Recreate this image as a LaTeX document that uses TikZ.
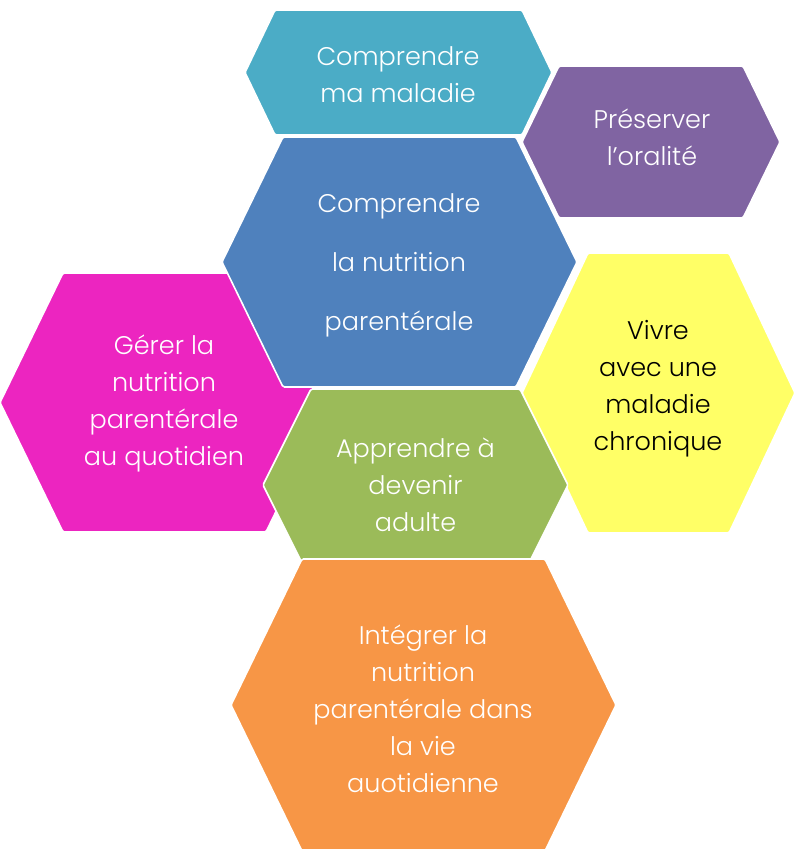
\documentclass[tikz,border=0pt]{standalone}
\usepackage{fontspec}
\setmainfont{Poppins Light}
\definecolor{cteal}{HTML}{4BACC6}
\definecolor{cpurple}{HTML}{8064A2}
\definecolor{cblue}{HTML}{4F81BD}
\definecolor{cmagenta}{HTML}{EC25C0}
\definecolor{cyellow}{HTML}{FFFF66}
\definecolor{cgreen}{HTML}{9BBB59}
\definecolor{corange}{HTML}{F79646}
\tikzset{
  hexline/.style={draw=white, line width=1.6pt, rounded corners=1.5pt},
  lbl/.style={align=center, text=white, inner sep=0pt, font=\fontsize{25.5}{37}\selectfont},
}
\newcommand\hexa[6]{%
  \filldraw[hexline, fill=#6] (#1,{(#3+#4)/2}) -- (#1+#5,#3) -- (#2-#5,#3) -- (#2,{(#3+#4)/2}) -- (#2-#5,#4) -- (#1+#5,#4) -- cycle;}
\begin{document}
\begin{tikzpicture}[x=1pt,y=-1pt]
\useasboundingbox (0,0) rectangle (795,849);
% shapes, back to front
\hexa{0}{329}{273}{532}{63}{cmagenta}
\hexa{245}{552}{10}{135}{30}{cteal}
\hexa{522}{780}{66}{218}{37}{cpurple}
\hexa{222}{577}{137}{387}{61}{cblue}
\hexa{522}{795}{253}{533}{66}{cyellow}
\hexa{263}{568}{389}{581}{48}{cgreen}
\hexa{231}{616}{559}{851}{71}{corange}
% labels
\node[lbl] (n1) at (164,403) {Gérer la\\nutrition\\parentérale\\au quotidien};
\node[lbl] (n2) at (398,75) {Comprendre\\ma maladie};
\node[lbl] (n3) at (652,137) {Préserver\\l’oralité};
\node[lbl, font=\fontsize{25.5}{59}\selectfont] (n4) at (399,265) {Comprendre\\la nutrition\\parentérale};
\node[lbl, text=black] (n5) at (658,389) {Vivre\\avec une\\maladie\\chronique};
\node[lbl] (n6) at (415.5,485) {Apprendre à\\devenir\\adulte};
\node[lbl] (n7) at (423,709) {Intégrer la\\nutrition\\parentérale dans\\la vie\\auotidienne};
\end{tikzpicture}
\end{document}
